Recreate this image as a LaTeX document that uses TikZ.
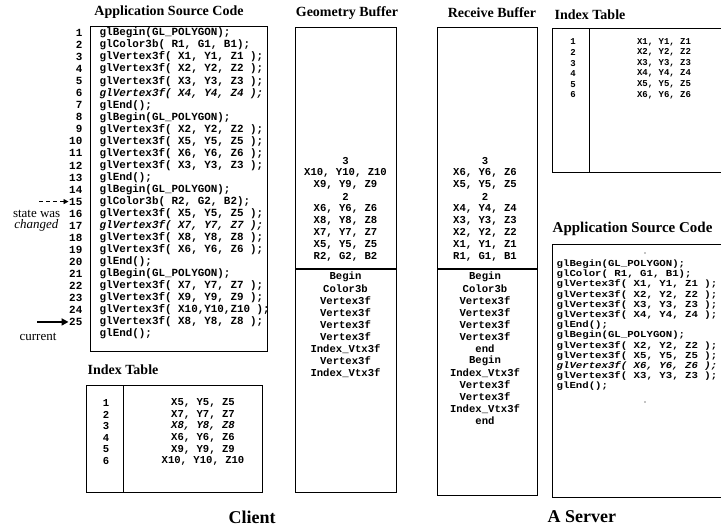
\documentclass[tikz,border=0pt]{standalone}
\usepackage{fontspec}
\setmainfont{Liberation Serif}
\newfontfamily\codefont{Liberation Mono}
\usetikzlibrary{arrows.meta}
\begin{document}
\begin{tikzpicture}[x=1pt,y=-1pt,
  code/.style={font=\codefont\bfseries\fontsize{10.9}{12}\selectfont, anchor=west, inner sep=0.5pt},
  rcode/.style={font=\codefont\bfseries\fontsize{10.7}{12}\selectfont, anchor=west, inner sep=0.5pt},
  lnum/.style={font=\codefont\bfseries\fontsize{10.9}{12}\selectfont, anchor=east, inner sep=0.5pt},
  buf/.style={font=\codefont\bfseries\fontsize{10.6}{12}\selectfont, inner sep=0.5pt},
  idx/.style={font=\codefont\bfseries\fontsize{10.6}{12}\selectfont, inner sep=0.5pt},
  ridx/.style={font=\codefont\bfseries\fontsize{9}{11}\selectfont, inner sep=0.5pt},
  ttl/.style={font=\bfseries\fontsize{14}{16}\selectfont, inner sep=0.5pt},
  big/.style={font=\bfseries\fontsize{18}{20}\selectfont, inner sep=0.5pt},
  note/.style={font=\fontsize{13}{15}\selectfont, inner sep=0.5pt},
  frame/.style={draw, line width=0.8pt},
  divider/.style={draw, line width=1.8pt},
]
\useasboundingbox (0,0) rectangle (721,531);

% ---------- titles ----------
\node[ttl] (t1) at (169,12) {Application Source Code};
\node[ttl] (t2) at (347,13) {Geometry Buffer};
\node[ttl] (t3) at (492,13) {Receive Buffer};
\node[ttl, anchor=west] (t4) at (554,15) {Index Table};
\node[ttl, anchor=west] (t5) at (87,370) {Index Table};
\node[ttl, anchor=west, font=\bfseries\fontsize{15}{17}\selectfont] (t6) at (552,229) {Application Source Code};
\node[big] (client) at (252,517) {Client};
\node[big, anchor=west] (server) at (547,517) {A Server};

% ---------- client source code ----------
\draw[frame] (90,26) rectangle (267,351);
\foreach \t [count=\i] in {
  {glBegin(GL\_POLYGON);},
  {glColor3b( R1, G1, B1);},
  {glVertex3f( X1, Y1, Z1 );},
  {glVertex3f( X2, Y2, Z2 );},
  {glVertex3f( X3, Y3, Z3 );},
  {\itshape glVertex3f( X4, Y4, Z4 );},
  {glEnd();},
  {glBegin(GL\_POLYGON);},
  {glVertex3f( X2, Y2, Z2 );},
  {glVertex3f( X5, Y5, Z5 );},
  {glVertex3f( X6, Y6, Z6 );},
  {glVertex3f( X3, Y3, Z3 );},
  {glEnd();},
  {glBegin(GL\_POLYGON);},
  {glColor3b( R2, G2, B2);},
  {glVertex3f( X5, Y5, Z5 );},
  {\itshape glVertex3f( X7, Y7, Z7 );},
  {glVertex3f( X8, Y8, Z8 );},
  {glVertex3f( X6, Y6, Z6 );},
  {glEnd();},
  {glBegin(GL\_POLYGON);},
  {glVertex3f( X7, Y7, Z7 );},
  {glVertex3f( X9, Y9, Z9 );},
  {glVertex3f( X10,Y10,Z10 );},
  {glVertex3f( X8, Y8, Z8 );},
  {glEnd();}}
  \node[code] (c\i) at (99,{33+12.04*(\i-1)}) {\t};
\foreach \i in {1,...,25}
  \node[lnum] (n\i) at (83,{33+12.04*(\i-1)}) {\i};

% annotations
\coordinate (d0) at (39,{33+12.04*14});
\draw[line width=0.8pt, dash pattern=on 4pt off 3pt, -{Triangle[length=5pt,width=5pt]}] (d0) -- (n15.west);
\coordinate (a0) at (37,{33+12.04*24});
\draw[line width=2.2pt, -{Triangle[length=7pt,width=7pt]}] (a0) -- (n25.west);
\node[note, anchor=east] (sw) at (61,{33+12.04*15}) {state was};
\node[note, anchor=east] (ch) at (59,{33+12.04*16}) {\itshape changed};
\node[note] (cur) at (38,337) {current};

% ---------- client index table ----------
\draw[frame] (86,385) rectangle (262,492);
\draw[frame] (123,385) -- (123,492);
\foreach \v [count=\k] in {{X5, Y5, Z5},{X7, Y7, Z7},{\itshape X8, Y8, Z8},{X6, Y6, Z6},{X9, Y9, Z9},{X10, Y10, Z10}} {
  \node[idx] (li\k) at (106,{403+11.6*(\k-1)}) {\k};
  \node[idx] (lv\k) at (203,{403+11.6*(\k-1)}) {\v};
}

% ---------- geometry buffer ----------
\draw[frame] (295,27) rectangle (396,492);
\draw[divider] (295,269) -- (396,269);
\foreach \v [count=\k] in {3,{X10, Y10, Z10},{X9, Y9, Z9},2,{X6, Y6, Z6},{X8, Y8, Z8},{X7, Y7, Z7},{X5, Y5, Z5},{R2, G2, B2}}
  \node[buf] (gu\k) at (345.5,{161+12*(\k-1)}) {\v};
\foreach \v [count=\k] in {Begin,Color3b,Vertex3f,Vertex3f,Vertex3f,Vertex3f,Index\_Vtx3f,Vertex3f,Index\_Vtx3f}
  \node[buf] (gl\k) at (345.5,{277+12*(\k-1)}) {\v};

% ---------- receive buffer ----------
\draw[frame] (437,27) rectangle (537,495);
\draw[divider] (437,269) -- (537,269);
\foreach \v [count=\k] in {3,{X6, Y6, Z6},{X5, Y5, Z5},2,{X4, Y4, Z4},{X3, Y3, Z3},{X2, Y2, Z2},{X1, Y1, Z1},{R1, G1, B1}}
  \node[buf] (ru\k) at (485,{161+12*(\k-1)}) {\v};
\foreach \v [count=\k] in {Begin,Color3b,Vertex3f,Vertex3f,Vertex3f,Vertex3f,end,Begin,Index\_Vtx3f,Vertex3f,Vertex3f,Index\_Vtx3f,end}
  \node[buf] (rl\k) at (485,{277+12*(\k-1)}) {\v};

% ---------- server index table ----------
\draw[frame] (726,28) -- (552,28) -- (552,172) -- (726,172);
\draw[frame] (589,28) -- (589,172);
\foreach \v [count=\k] in {{X1, Y1, Z1},{X2, Y2, Z2},{X3, Y3, Z3},{X4, Y4, Z4},{X5, Y5, Z5},{X6, Y6, Z6}} {
  \node[ridx] (si\k) at (573,{42+10.6*(\k-1)}) {\k};
  \node[ridx] (sv\k) at (664,{42+10.6*(\k-1)}) {\v};
}

% ---------- server source code ----------
\draw[frame] (726,244) -- (552,244) -- (552,497) -- (726,497);
\foreach \t [count=\i] in {
  {glBegin(GL\_POLYGON);},
  {glColor( R1, G1, B1);},
  {glVertex3f( X1, Y1, Z1 );},
  {glVertex3f( X2, Y2, Z2 );},
  {glVertex3f( X3, Y3, Z3 );},
  {glVertex3f( X4, Y4, Z4 );},
  {glEnd();},
  {glBegin(GL\_POLYGON);},
  {glVertex3f( X2, Y2, Z2 );},
  {glVertex3f( X5, Y5, Z5 );},
  {\itshape glVertex3f( X6, Y6, Z6 );},
  {glVertex3f( X3, Y3, Z3 );},
  {glEnd();}}
  \node[rcode] (s\i) at (556,{264+10.2*(\i-1)}) {\scalebox{1}[0.86]{\t}};
\fill (645,253) circle (0.7);
\fill (645,402) circle (0.7);
\end{tikzpicture}
\end{document}
